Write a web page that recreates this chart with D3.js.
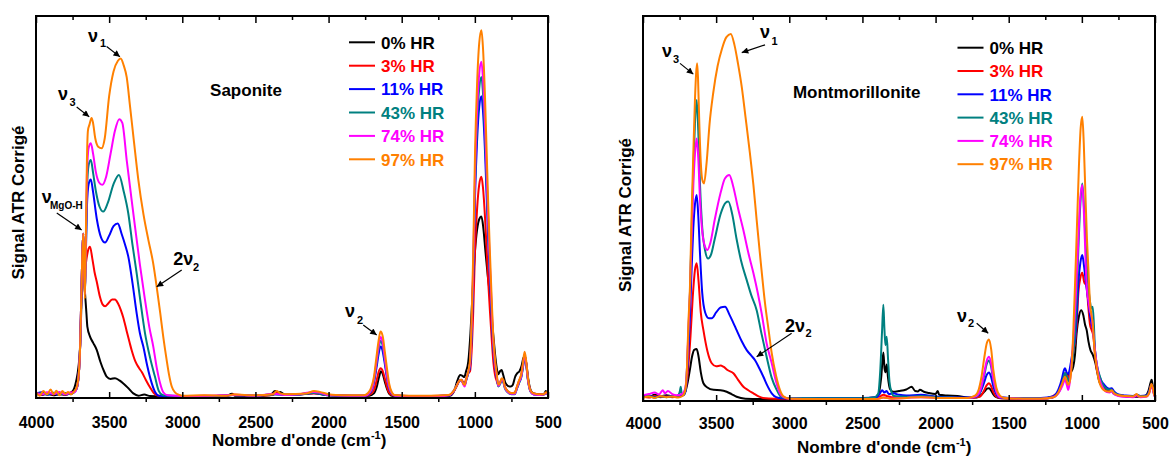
<!DOCTYPE html>
<html><head><meta charset="utf-8">
<script src="https://cdn.jsdelivr.net/npm/d3@7"></script>
<style>
body{margin:0;background:#fff;}
svg{display:block;font-family:"Liberation Sans",Arial,Helvetica,sans-serif;font-weight:bold;}
</style></head><body>
<svg id="chart" width="1170" height="456"></svg>
<script>
// ---------------- DATA ----------------
const humidityLabels = ["0% HR","3% HR","11% HR","43% HR","74% HR","97% HR"];
const xTickValues = [4000,3500,3000,2500,2000,1500,1000,500];
const xMinorTicks = [3750,3250,2750,2250,1750,1250,750];
const panelNames = ["Saponite","Montmorillonite"];

// Saponite spectra: [wavenumber cm-1, signal (a.u.)]
const sap_0 = [[4000,1.2],[3960,0.8],[3920,1.1],[3880,0.7],[3840,1.0],[3800,0.8],[3770,1.2],[3745,2.0],[3725,4.5],[3710,8],[3698,14],[3690,24],[3682,34],[3677,37],[3672,31],[3665,27.5],[3655,22],[3649,18.7],[3630,16],[3610,14.5],[3585,12.6],[3560,9.5],[3535,7],[3517,5.6],[3490,5],[3460,5.2],[3430,4.6],[3403,3.8],[3370,2.6],[3335,1.2],[3300,0.6],[3260,0.9],[3220,0.5],[3150,0.4],[3000,0.4],[2850,0.5],[2700,0.5],[2660,1.1],[2640,0.6],[2500,0.5],[2400,0.7],[2365,1.8],[2345,1.3],[2330,1.6],[2300,0.9],[2200,1.0],[2110,1.4],[2060,1.1],[2000,0.8],[1900,0.6],[1780,0.5],[1720,0.6],[1690,1.2],[1670,3],[1655,5.5],[1642,7],[1630,6.3],[1615,4.2],[1600,2.3],[1585,1.1],[1560,0.5],[1400,0.4],[1250,0.4],[1170,0.6],[1140,2],[1120,4.5],[1100,6],[1085,5.8],[1072,5.5],[1060,7],[1045,9.5],[1030,17],[1015,28],[1000,38],[985,44],[968,47],[955,47.5],[942,44.5],[928,38.5],[912,32],[897,27],[885,21],[874,16.5],[862,11.5],[851,8],[840,6.2],[828,7],[817,7.3],[806,6],[792,4],[775,3.2],[755,3],[740,3.5],[725,5.5],[710,6.5],[695,7],[680,8.5],[668,10.5],[658,11],[648,9],[635,5],[618,2],[600,1.2],[570,1.0],[545,0.9],[525,1.2],[515,1.8],[505,1.2],[500,1.0]];
const sap_3 = [[4000,1.5],[3965,1.0],[3930,1.4],[3890,0.9],[3850,1.3],[3810,1.0],[3770,1.4],[3740,1.6],[3722,2.5],[3708,6],[3698,14],[3690,27],[3683,38],[3677,43],[3672,37],[3666,33],[3658,35.5],[3645,38.5],[3631,39.6],[3615,36.5],[3600,33],[3585,30.5],[3563,26.5],[3545,24.5],[3528,24],[3505,24.8],[3480,25.8],[3460,25.8],[3440,24.8],[3420,23],[3403,21],[3380,17.5],[3360,14.5],[3346,12.5],[3320,9.5],[3295,7.8],[3277,6.8],[3250,4.8],[3221,2.8],[3195,1.3],[3165,0.6],[3100,0.5],[3000,0.5],[2850,0.6],[2700,0.5],[2650,0.9],[2500,0.6],[2380,0.8],[2355,1.3],[2300,0.8],[2200,0.9],[2100,1.2],[2000,0.7],[1850,0.6],[1740,0.6],[1710,1.1],[1690,2],[1672,4.5],[1658,6.8],[1645,7.8],[1632,7.3],[1618,5.5],[1603,3.2],[1588,1.5],[1565,0.7],[1450,0.5],[1300,0.5],[1180,0.7],[1150,1.4],[1125,3],[1105,4.5],[1092,4.8],[1080,4.2],[1070,3.8],[1060,5],[1045,6.5],[1033,7],[1022,12.3],[1011,22.8],[999,38.5],[985,49.3],[970,55.9],[955,57.9],[945,55.3],[930,46.9],[919,38.5],[908,30],[897,22.8],[885,15.6],[874,9.6],[862,6],[851,4.5],[840,3.4],[828,4],[816,5],[806,4.6],[795,3],[775,1.8],[750,1.3],[728,1.4],[712,3],[698,4.5],[683,6],[670,9],[660,11.2],[650,9.5],[637,5],[620,2],[600,1.2],[560,1.0],[530,1.0],[512,1.4],[500,1.0]];
const sap_11 = [[4000,1.1],[3960,1.5],[3920,0.8],[3880,1.2],[3840,0.9],[3800,1.3],[3765,1.1],[3738,1.5],[3722,2.5],[3708,6],[3698,14],[3690,27],[3683,38],[3677,43],[3672,36],[3666,28],[3660,36],[3652,50],[3640,56],[3625,57.2],[3610,54],[3585,47],[3555,42],[3528,40.7],[3500,42.5],[3470,45],[3441,45.7],[3415,43],[3390,40],[3369,37],[3340,30],[3312,22.2],[3290,17],[3266,13.4],[3240,8.5],[3209,3.9],[3185,1.5],[3160,0.6],[3100,0.5],[3000,0.5],[2800,0.5],[2650,0.8],[2500,0.6],[2370,1.0],[2300,0.8],[2200,0.9],[2100,1.3],[2000,0.7],[1850,0.6],[1750,0.6],[1720,1.2],[1700,2.5],[1685,5],[1672,8],[1658,11.5],[1645,13.5],[1632,12.6],[1618,9.5],[1603,5.8],[1588,2.8],[1570,1.2],[1545,0.6],[1400,0.5],[1250,0.5],[1170,0.8],[1145,1.8],[1125,3.2],[1105,4.5],[1092,4.7],[1080,3.8],[1070,3.3],[1060,4.5],[1045,6.5],[1033,8.2],[1022,16.7],[1011,31.2],[999,52.5],[985,67.2],[970,76.3],[955,79],[945,75.4],[930,64],[919,52.5],[908,41],[897,31.2],[885,21.3],[874,13.1],[862,8.2],[851,5.5],[840,3.2],[828,3.8],[816,4.8],[806,4.4],[795,2.8],[775,1.6],[750,1.1],[728,1.1],[712,2.6],[698,4],[683,5.5],[670,8.5],[660,10.8],[650,9.2],[637,4.8],[620,1.8],[600,1.0],[560,0.8],[530,0.9],[512,1.3],[500,0.9]];
const sap_43 = [[4000,1.0],[3960,1.3],[3920,0.9],[3880,1.4],[3840,1.0],[3800,1.2],[3765,1.0],[3738,1.6],[3722,2.5],[3708,6],[3698,14],[3690,27],[3683,38],[3677,43],[3672,36],[3666,27],[3660,36],[3652,54],[3640,61],[3625,62.3],[3610,59],[3590,54],[3565,50],[3540,48.8],[3510,51],[3470,56],[3433,58.4],[3400,54],[3369,48.3],[3340,40],[3312,32.7],[3285,25],[3255,17],[3220,10.5],[3187,5.6],[3160,1.8],[3130,0.7],[3000,0.5],[2800,0.5],[2650,0.8],[2500,0.6],[2370,1.0],[2300,0.8],[2200,0.9],[2100,1.3],[2000,0.7],[1850,0.6],[1750,0.6],[1720,1.3],[1700,2.7],[1685,5.5],[1672,9],[1658,12.8],[1645,15],[1632,14],[1618,10.5],[1603,6.4],[1588,3],[1570,1.3],[1545,0.6],[1400,0.5],[1250,0.5],[1170,0.8],[1145,1.8],[1125,3.2],[1105,4.5],[1092,4.7],[1080,3.8],[1070,3.3],[1060,4.6],[1045,6.6],[1033,8.7],[1022,17.8],[1011,33.1],[999,55.8],[985,71.5],[970,81.1],[955,84],[945,80.2],[930,68],[919,55.8],[908,43.6],[897,33.1],[885,22.7],[874,14],[862,8.7],[851,5.8],[840,3.0],[828,3.6],[816,4.6],[806,4.2],[795,2.6],[775,1.5],[750,1.0],[728,1.0],[712,2.5],[698,3.9],[683,5.4],[670,8.3],[660,10.5],[650,9.0],[637,4.6],[620,1.7],[600,1.0],[560,0.8],[530,0.9],[512,1.3],[500,0.9]];
const sap_74 = [[4000,1.3],[3960,0.9],[3920,1.5],[3880,1.0],[3840,1.6],[3800,0.9],[3765,1.4],[3738,1.5],[3722,2.5],[3708,6],[3698,14],[3690,27],[3683,38],[3677,43],[3672,36],[3666,27],[3660,38],[3652,58],[3640,65.5],[3625,66.7],[3610,64],[3590,59],[3570,56.5],[3547,55.8],[3520,58],[3490,64],[3460,70],[3431,73],[3410,72],[3380,62.3],[3350,53],[3323,44.8],[3290,35],[3255,25.7],[3225,18.5],[3198,13.4],[3175,8],[3152,3.9],[3130,1.5],[3100,0.7],[3000,0.5],[2800,0.6],[2650,0.8],[2500,0.6],[2370,1.1],[2300,0.8],[2200,1.0],[2100,1.6],[2060,1.4],[2000,0.8],[1850,0.6],[1750,0.6],[1720,1.4],[1700,2.9],[1685,6],[1672,9.6],[1658,13.6],[1645,16],[1632,15],[1618,11.2],[1603,6.8],[1588,3.2],[1570,1.4],[1545,0.6],[1400,0.5],[1250,0.5],[1170,0.8],[1145,1.8],[1125,3.2],[1105,4.5],[1092,4.7],[1080,3.6],[1070,3.0],[1060,4.6],[1045,6.8],[1033,9.1],[1022,18.6],[1011,34.7],[999,58.5],[985,75],[970,85],[955,88],[945,84],[930,71.3],[919,58.5],[908,45.7],[897,34.7],[885,23.8],[874,14.6],[862,9],[851,6],[840,3.2],[828,3.8],[816,4.9],[806,4.5],[795,2.8],[775,1.6],[750,1.1],[728,1.1],[712,2.7],[698,4.2],[683,5.7],[670,8.8],[660,11.2],[650,9.4],[637,4.8],[620,1.8],[600,1.0],[560,0.8],[530,0.9],[512,1.3],[500,0.9]];
const sap_97 = [[4000,1.5],[3975,0.6],[3950,1.8],[3925,0.9],[3900,2.2],[3880,1.0],[3860,1.9],[3840,0.7],[3820,1.8],[3800,1.1],[3780,1.6],[3760,0.9],[3740,1.7],[3725,2.5],[3708,6],[3698,14],[3690,27],[3683,38],[3677,43],[3672,36],[3666,26],[3660,40],[3652,62],[3645,70],[3635,71.5],[3620,73.3],[3610,72],[3595,68],[3575,65.8],[3551,65.4],[3530,68],[3500,79],[3470,85.5],[3440,88.3],[3421,88.9],[3400,87],[3380,84],[3357,76.3],[3330,67],[3300,57],[3265,48],[3232,41.4],[3200,35.5],[3175,29.1],[3150,22],[3130,16],[3107,10],[3090,6],[3072,3],[3050,1.5],[3020,0.8],[3000,0.6],[2850,0.7],[2700,0.6],[2650,0.9],[2500,0.7],[2380,1.0],[2355,1.8],[2330,1.2],[2300,1.0],[2150,1.2],[2100,1.8],[2060,1.6],[2000,1.0],[1950,0.8],[1850,0.7],[1760,0.7],[1730,1.3],[1710,2.6],[1690,5.5],[1675,10],[1660,14.5],[1645,17.4],[1630,16.2],[1615,12],[1600,7.5],[1585,3.6],[1570,1.7],[1550,0.8],[1450,0.6],[1300,0.6],[1180,0.8],[1150,1.6],[1125,3.2],[1105,4.6],[1092,4.8],[1080,3.8],[1070,3.4],[1060,4.8],[1045,7],[1033,10],[1022,20.4],[1011,38],[999,64],[985,82],[970,93],[955,96.3],[945,92],[930,78],[919,64],[908,50],[897,38],[885,26],[874,16],[862,10],[851,6.5],[840,3.5],[828,4],[816,5.2],[806,4.8],[795,3],[775,1.8],[750,1.3],[728,1.3],[712,3],[698,4.6],[683,6.2],[670,9.5],[660,12.1],[650,10],[637,5.2],[620,2],[600,1.2],[570,1.0],[530,1.0],[512,1.5],[500,1.0]];

// Montmorillonite spectra
const mont_0 = [[4000,1.5],[3960,1.1],[3920,1.6],[3880,1.2],[3840,1.5],[3800,1.2],[3760,1.4],[3730,1.6],[3710,2.5],[3695,4.8],[3680,8],[3665,11.5],[3650,13.3],[3633,13.5],[3620,11.5],[3605,7.5],[3587,4.6],[3560,3.5],[3518,2.9],[3470,2.8],[3428,2.4],[3395,1.8],[3360,1.1],[3300,0.6],[3200,0.5],[3000,0.5],[2800,0.6],[2650,0.8],[2500,0.7],[2420,0.9],[2390,1.8],[2372,6],[2357,12.6],[2349,8.5],[2342,7.5],[2334,9.5],[2325,6],[2312,3.2],[2290,2.4],[2250,2.6],[2200,3],[2163,3.7],[2140,2.6],[2120,2.5],[2107,2.9],[2080,2.4],[2050,2.1],[2000,1.8],[1985,2.6],[1975,1.6],[1920,1.4],[1850,1.3],[1780,0.9],[1720,0.9],[1690,1.5],[1665,2.5],[1648,3.2],[1635,3.3],[1620,2.7],[1605,1.7],[1585,1.0],[1550,0.7],[1400,0.6],[1280,0.6],[1200,0.9],[1170,1.8],[1150,2.9],[1130,5],[1112,6.3],[1093,6.8],[1075,7.5],[1059,8.9],[1047,12],[1036,17.6],[1020,22],[1005,23.6],[990,22.3],[978,19.8],[967,18.4],[955,15.5],[941,13.2],[925,12],[907,9.8],[895,7.5],[880,5],[862,3.7],[840,2.8],[820,2.6],[800,2.8],[785,2],[750,1.4],[700,1.2],[650,1.1],[600,1.1],[565,1.4],[545,2.6],[530,4.8],[523,5.5],[515,4],[505,2],[500,1.5]];
const mont_3 = [[4000,1.2],[3960,0.9],[3920,1.3],[3880,1.0],[3840,1.2],[3800,1.0],[3760,1.2],[3730,1.4],[3712,2.5],[3700,5],[3690,9],[3675,17],[3660,27],[3645,34],[3633,35.8],[3620,31],[3605,23],[3587,18.4],[3560,13],[3530,9.8],[3500,9],[3470,9.2],[3450,8.9],[3420,8],[3382,7.2],[3350,5.5],[3314,3.7],[3280,2.8],[3245,2],[3210,1.2],[3180,0.8],[3100,0.6],[2900,0.6],[2700,0.6],[2500,0.6],[2400,0.7],[2357,1.6],[2334,1.3],[2300,1.0],[2200,1.1],[2100,1.3],[2000,1.0],[1900,0.9],[1780,0.8],[1700,1.1],[1670,2.6],[1650,4.1],[1635,4.6],[1620,3.8],[1605,2.3],[1585,1.1],[1550,0.7],[1400,0.6],[1280,0.6],[1200,1.2],[1160,2.5],[1135,4.8],[1115,7.3],[1100,6.5],[1090,6],[1075,9],[1060,13],[1047,15],[1035,20],[1024,28],[1010,32],[997,33.3],[985,31],[967,29.7],[956,24.5],[945,20],[933,18.4],[922,17],[910,12],[899,8.5],[885,6.5],[870,5],[853,4],[830,3],[810,2.8],[796,3],[780,2.2],[750,1.6],[700,1.3],[650,1.2],[625,1.5],[600,1.2],[560,1.3],[540,2.3],[525,4.2],[515,3.4],[505,1.6],[500,1.3]];
const mont_11 = [[4000,1.2],[3960,1.4],[3920,1.0],[3880,1.3],[3840,1.1],[3800,1.3],[3760,1.2],[3730,1.4],[3713,2],[3700,6],[3690,13],[3679,22],[3668,34],[3656,45],[3645,51],[3633,53.5],[3622,48],[3610,38],[3595,28],[3575,23],[3550,21.5],[3530,21.5],[3500,23],[3470,24.3],[3439,24.5],[3410,22.5],[3385,20.5],[3360,18.4],[3325,15.5],[3291,13.2],[3260,11.8],[3234,10.6],[3205,8.5],[3177,6.3],[3150,4],[3120,2],[3090,1],[3050,0.7],[2900,0.7],[2700,0.8],[2500,0.8],[2400,1.0],[2380,2],[2365,2.8],[2350,2.2],[2335,2.6],[2320,1.8],[2290,2.0],[2250,1.6],[2200,1.4],[2100,1.6],[2000,1.2],[1900,1.0],[1780,0.9],[1720,1.2],[1690,2.6],[1668,4.8],[1650,6.8],[1635,7.4],[1620,6.2],[1605,3.8],[1585,1.8],[1560,0.9],[1400,0.7],[1280,0.8],[1200,1.2],[1160,3],[1135,6],[1122,8.1],[1115,8.5],[1105,7.5],[1093,7],[1075,10],[1060,13.5],[1047,15.8],[1035,22],[1024,30.6],[1010,36],[997,37.9],[985,35],[970,30],[956,26],[945,22.5],[933,20],[922,18],[910,13],[899,9.5],[885,7],[870,5.5],[853,4.5],[830,3.5],[810,3.2],[796,3.3],[780,2.5],[750,1.7],[700,1.4],[650,1.3],[625,1.6],[600,1.3],[560,1.4],[540,2.5],[525,4.3],[515,3.5],[505,1.8],[500,1.4]];
const mont_43 = [[4000,1.0],[3960,1.3],[3920,0.9],[3880,1.2],[3840,1.0],[3800,1.2],[3765,1.3],[3748,2.5],[3742,3.7],[3735,1.8],[3720,1.6],[3710,2.8],[3700,8],[3690,17],[3679,28],[3668,44],[3656,60],[3645,72],[3633,78.2],[3622,70],[3610,56],[3595,45],[3575,39],[3555,37],[3535,38],[3510,42],[3470,48.5],[3435,51.5],[3417,51.8],[3390,48.5],[3360,42],[3330,36.5],[3291,31.4],[3260,27.5],[3223,23.6],[3190,17.5],[3155,11.5],[3120,6],[3086,2.9],[3060,1.2],[3030,0.8],[2900,0.7],[2700,0.7],[2500,0.7],[2420,0.9],[2393,1.8],[2378,8],[2366,18],[2357,25],[2350,19],[2343,14.5],[2334,16.7],[2325,11],[2315,5],[2300,2.2],[2285,1.3],[2200,1.1],[2100,1.3],[2000,1.0],[1900,0.9],[1780,0.8],[1720,1.2],[1690,3],[1668,6.5],[1650,9.6],[1635,10.5],[1620,8.8],[1605,5.2],[1585,2.3],[1560,1.0],[1400,0.7],[1280,0.7],[1200,1.0],[1160,2.2],[1135,4.5],[1115,7.3],[1100,6],[1090,5],[1075,8],[1060,12],[1047,17.6],[1035,27],[1024,39.2],[1012,50],[997,56.5],[985,50],[970,38],[956,30],[945,26],[935,24],[926,24.5],[918,20],[910,13.2],[895,9],[876,6.3],[860,4.5],[840,3.5],[820,3],[800,3],[780,2.2],[750,1.6],[700,1.3],[650,1.2],[625,1.6],[600,1.2],[560,1.3],[540,2.3],[525,4],[515,3.3],[505,1.6],[500,1.2]];
const mont_74 = [[4000,1.5],[3960,1.8],[3920,2.2],[3890,1.7],[3865,2.8],[3850,2.0],[3830,2.6],[3800,1.8],[3770,1.5],[3735,1.8],[3713,3],[3700,8],[3690,18],[3679,28],[3668,42],[3656,56],[3645,64],[3633,68.2],[3622,63],[3610,52],[3595,44],[3575,40],[3560,39.2],[3540,41],[3510,47],[3470,54],[3440,57.8],[3410,58.7],[3385,56],[3350,50],[3314,44.4],[3280,38.5],[3245,33.2],[3215,28],[3189,22.8],[3155,15],[3120,9.8],[3090,5],[3064,2],[3040,1],[3000,0.6],[2800,0.5],[2600,0.5],[2400,0.5],[2357,0.9],[2300,0.6],[2200,0.8],[2100,1.0],[2000,0.8],[1900,0.8],[1780,0.8],[1720,1.3],[1690,3.3],[1668,7.2],[1650,10.5],[1635,11.5],[1620,9.7],[1605,5.7],[1585,2.5],[1560,1.0],[1400,0.6],[1280,0.6],[1200,0.9],[1160,2],[1135,3.8],[1115,5.5],[1103,4.2],[1093,2.9],[1082,5],[1068,11],[1055,18],[1040,28],[1024,42],[1012,52],[997,56.1],[985,48],[975,37],[967,29.7],[955,26],[945,23.5],[933,21.9],[920,17],[910,13],[899,9.8],[885,6.5],[870,4.5],[850,3],[830,2.3],[810,2.2],[796,2.5],[780,1.8],[750,1.3],[700,1.1],[650,1.0],[625,1.4],[600,1.0],[560,1.1],[540,2],[525,3.8],[515,3],[505,1.4],[500,1.1]];
const mont_97 = [[4000,0.8],[3960,1.2],[3920,0.8],[3880,1.3],[3840,1.0],[3800,1.2],[3760,0.9],[3730,1.3],[3713,2.5],[3700,8],[3690,20],[3679,29.7],[3668,48],[3656,64.3],[3645,78],[3637,85],[3630,87.7],[3624,84],[3615,72],[3605,62],[3595,57.5],[3583,56.5],[3565,62],[3545,72],[3520,80],[3490,87],[3460,91.5],[3430,94.5],[3400,95.3],[3375,92.5],[3350,87.5],[3325,81.6],[3300,74],[3269,64.3],[3245,56],[3223,47],[3195,36],[3166,25.4],[3140,18],[3120,12.4],[3090,6.5],[3064,2.9],[3040,1.2],[3000,0.6],[2800,0.5],[2600,0.5],[2400,0.5],[2357,0.9],[2300,0.6],[2200,0.8],[2100,1.0],[2000,0.8],[1900,0.8],[1780,0.8],[1730,1.4],[1705,3],[1685,6.5],[1668,11],[1650,15],[1635,16],[1620,13.5],[1605,8],[1585,3.5],[1560,1.4],[1530,0.8],[1400,0.6],[1280,0.6],[1200,0.9],[1160,2.3],[1135,4.5],[1115,6.3],[1100,4.8],[1093,4.2],[1080,5.5],[1070,9],[1059,17.6],[1047,30],[1035,43.6],[1020,61],[1008,71],[997,73.8],[987,67],[975,53],[965,42],[956,34.9],[945,26],[935,22.5],[925,20],[915,14],[899,8.9],[885,5.5],[870,3.8],[853,2.9],[830,2.5],[810,2.4],[796,2.8],[780,2],[750,1.5],[700,1.3],[650,1.2],[625,1.8],[610,1.2],[560,1.2],[540,2],[525,4.4],[515,3.5],[505,1.5],[500,1.2]];

const saponiteSeries = [sap_0, sap_3, sap_11, sap_43, sap_74, sap_97];
const montSeries = [mont_0, mont_3, mont_11, mont_43, mont_74, mont_97];

// ---------------- STYLE / LAYOUT ----------------
const seriesColors = ["#000000","#ff0000","#0000ff","#008080","#ff00ff","#ff8000"];

// annotation anchors in data units [wavenumber, signal]
const saponiteNotes = [
  {main:"ν", sub:"1", at:[3645,93.2], subAt:[3562,91.9], from:[3517,92.0], to:[3426,89.3]},
  {main:"ν", sub:"3", at:[3850,78.0], subAt:[3771,76.4], from:[3722,76.2], to:[3636,73.6]},
  {main:"ν", sub:"MgO-H", at:[3961,51.0], subAt:[3904,49.6], from:[3858,48.4], to:[3688,44.0], small:true},
  {main:"2ν", sub:"2", at:[3061,34.8], subAt:[2927,33.2], from:[3004,33.5], to:[3175,29.1]},
  {main:"ν", sub:"2", at:[1888,21.2], subAt:[1806,19.4], from:[1763,19.1], to:[1671,16.5]}
];
const montNotes = [
  {main:"ν", sub:"3", at:[3870,89.4], subAt:[3795,87.8], from:[3747,87.7], to:[3656,84.9]},
  {main:"ν", sub:"1", at:[3200,94.3], subAt:[3122,92.5], from:[3166,92.5], to:[3325,90.5]},
  {main:"2ν", sub:"2", at:[3029,17.9], subAt:[2889,16.6], from:[2984,17.6], to:[3223,11.5]},
  {main:"ν", sub:"2", at:[1854,20.5], subAt:[1778,19.2], from:[1719,20.2], to:[1640,17.6]}
];

const panels = [
  {name:panelNames[0], series:saponiteSeries, notes:saponiteNotes, nameAt:[2810,79.1],
   left:36, right:548, top:16, bottom:398, labelPad:18.6,
   legendX:313, legendTop:26.3, legendStep:23.4,
   titleX:212, titleY:446, yTitleX:23.5, yTitleY:202.5},
  {name:panelNames[1], series:montSeries, notes:montNotes, nameAt:[2975,78.7],
   left:643, right:1155, top:16, bottom:401, labelPad:17.1,
   legendX:314.5, legendTop:31.7, legendStep:23.3,
   titleX:797, titleY:453, yTitleX:631, yTitleY:215}
];

// ---------------- DRAW ----------------
const svg = d3.select("#chart");
const defs = svg.append("defs");
defs.append("marker").attr("id","arrow").attr("viewBox","0 0 10 10")
  .attr("refX",10).attr("refY",5).attr("markerUnits","userSpaceOnUse")
  .attr("markerWidth",8).attr("markerHeight",6.5).attr("orient","auto")
  .append("path").attr("d","M0,0L10,5L0,10z").attr("fill","#000");

panels.forEach((p, pi) => {
  const x = d3.scaleLinear().domain([4000,500]).range([p.left,p.right]);
  const y = d3.scaleLinear().domain([0,100]).range([p.bottom,p.top]);
  const g = svg.append("g");

  defs.append("clipPath").attr("id","clip"+pi).append("rect")
    .attr("x",p.left).attr("y",p.top).attr("width",p.right-p.left).attr("height",p.bottom-p.top);

  const line = d3.line().x(d=>x(d[0])).y(d=>y(d[1])).curve(d3.curveMonotoneX);
  g.append("g").attr("clip-path",`url(#clip${pi})`)
    .selectAll("path").data(p.series).join("path")
    .attr("d", line).attr("fill","none")
    .attr("stroke",(d,i)=>seriesColors[i]).attr("stroke-width",2)
    .attr("stroke-linejoin","round");

  // bottom axis: labels + inward major ticks
  const axB = g.append("g").attr("transform",`translate(0,${p.bottom})`)
    .call(d3.axisBottom(x).tickValues(xTickValues).tickSizeInner(-6).tickSizeOuter(0)
      .tickPadding(p.labelPad).tickFormat(d3.format("d")));
  axB.select(".domain").remove();
  axB.selectAll("line").attr("stroke","#000").attr("stroke-width",1.5);
  axB.selectAll("text").attr("font-size",16).attr("font-weight","bold")
    .attr("font-family","'Liberation Sans',Arial,sans-serif").attr("fill","#000");
  // bottom minor ticks (outward)
  const axBm = g.append("g").attr("transform",`translate(0,${p.bottom})`)
    .call(d3.axisBottom(x).tickValues(xMinorTicks).tickSize(4).tickFormat(""));
  axBm.select(".domain").remove();
  axBm.selectAll("line").attr("stroke","#000").attr("stroke-width",1.5);
  // top ticks inward
  const axT = g.append("g").attr("transform",`translate(0,${p.top})`)
    .call(d3.axisTop(x).tickValues(xTickValues).tickSize(-7).tickFormat(""));
  axT.select(".domain").remove();
  axT.selectAll("line").attr("stroke","#000").attr("stroke-width",1.5);
  const axTm = g.append("g").attr("transform",`translate(0,${p.top})`)
    .call(d3.axisTop(x).tickValues(xMinorTicks).tickSize(-4).tickFormat(""));
  axTm.select(".domain").remove();
  axTm.selectAll("line").attr("stroke","#000").attr("stroke-width",1.5);

  // frame
  g.append("rect").attr("x",p.left).attr("y",p.top)
    .attr("width",p.right-p.left).attr("height",p.bottom-p.top)
    .attr("fill","none").attr("stroke","#000").attr("stroke-width",2);

  // axis titles
  const xt = g.append("text").attr("x",p.titleX).attr("y",p.titleY)
    .attr("font-size",17).attr("fill","#000");
  xt.append("tspan").text("Nombre d'onde (cm");
  xt.append("tspan").attr("font-size",11).attr("dy",-7).text("-1");
  xt.append("tspan").attr("dy",7).text(")");
  g.append("text").attr("transform",`translate(${p.yTitleX},${p.yTitleY}) rotate(-90)`)
    .attr("text-anchor","middle").attr("font-size",17).attr("fill","#000")
    .text("Signal ATR Corrigé");

  // sample name
  g.append("text").attr("x",x(p.nameAt[0])).attr("y",y(p.nameAt[1]))
    .attr("font-size",17).attr("fill","#000").text(p.name);

  // legend
  humidityLabels.forEach((lab,i)=>{
    const cy = p.top + p.legendTop + i*p.legendStep;
    g.append("line").attr("x1",p.left+p.legendX).attr("x2",p.left+p.legendX+26)
      .attr("y1",cy).attr("y2",cy).attr("stroke",seriesColors[i]).attr("stroke-width",2);
    g.append("text").attr("x",p.left+p.legendX+32).attr("y",cy+6.2)
      .attr("font-size",17).attr("fill",seriesColors[i]).text(lab);
  });

  // annotations
  p.notes.forEach(n=>{
    g.append("text").attr("x",x(n.at[0])).attr("y",y(n.at[1]))
      .attr("font-size",18).attr("fill","#000").text(n.main);
    g.append("text").attr("x",x(n.subAt[0])).attr("y",y(n.subAt[1]))
      .attr("font-size",n.small?10:11).attr("fill","#000").text(n.sub);
    g.append("line").attr("x1",x(n.from[0])).attr("y1",y(n.from[1]))
      .attr("x2",x(n.to[0])).attr("y2",y(n.to[1]))
      .attr("stroke","#000").attr("stroke-width",1.2).attr("marker-end","url(#arrow)");
  });
});
</script>
</body></html>
